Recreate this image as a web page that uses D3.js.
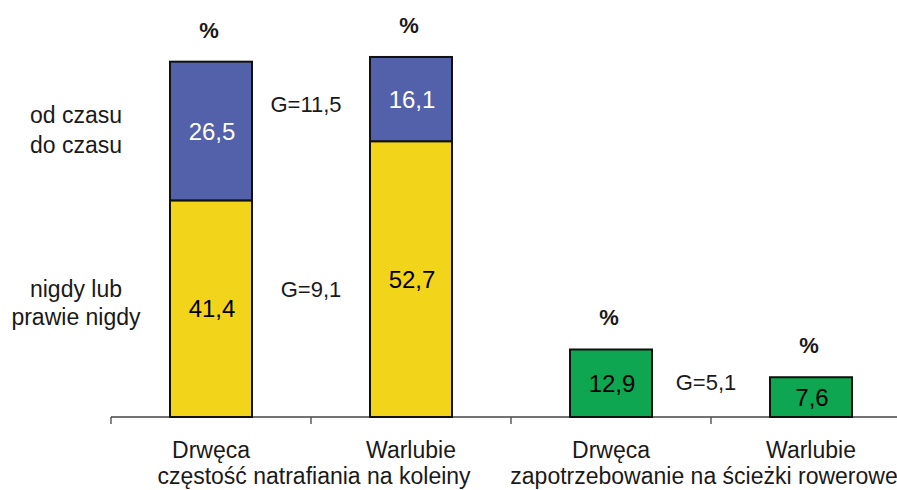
<!DOCTYPE html>
<html>
<head>
<meta charset="utf-8">
<script src="https://cdn.jsdelivr.net/npm/d3@7"></script>
<style>
  html, body { margin: 0; padding: 0; background: #fff; }
  svg { display: block; font-family: Arial, "Liberation Sans", Helvetica, sans-serif; }
</style>
</head>
<body>
<svg id="chart" width="897" height="490"></svg>
<script>
// ---- data ----
const categories = ["Drwęca", "Warlubie", "Drwęca ", "Warlubie "];
const categoryLabels = ["Drwęca", "Warlubie", "Drwęca", "Warlubie"];
const groupLabels = ["częstość natrafiania na koleiny", "zapotrzebowanie na ścieżki rowerowe"];
const seriesNames = ["od czasu\ndo czasu", "nigdy lub\nprawie nigdy"];
const nigdyValues = [41.4, 52.7, null, null];      // yellow
const odCzasuValues = [26.5, 16.1, null, null];    // blue
const sciezkiValues = [null, null, 12.9, 7.6];     // green
const gLabels = ["G=11,5", "G=9,1", "G=5,1"];
const unitLabel = "%";

// ---- layout ----
const svg = d3.select("#chart");
const W = 897, H = 490;
const baseY = 417;

const x = d3.scaleBand().domain(categories).range([111, 911]).padding(0);
const y = d3.scaleLinear().domain([0, 70]).range([baseY, baseY - 70 * 5.233]);
const barW = x.bandwidth() * 0.41;
const cx = c => x(c) + x.bandwidth() / 2;

const colors = { yellow: "#f2d41b", blue: "#5261a9", green: "#0ea650" };
const textColor = "#1a1a1a";

// axis
const axis = svg.append("g");
axis.append("line")
  .attr("x1", x(categories[0])).attr("x2", W)
  .attr("y1", baseY).attr("y2", baseY)
  .attr("stroke", "#444").attr("stroke-width", 1.3);
const tickXs = categories.map(c => x(c));
axis.selectAll("line.tick").data(tickXs).enter().append("line")
  .attr("class", "tick")
  .attr("x1", d => d).attr("x2", d => d)
  .attr("y1", baseY).attr("y2", baseY + 7)
  .attr("stroke", "#444").attr("stroke-width", 1.3);

// stacked bars
const rows = categories.map((c, i) => ({ c, i, yel: nigdyValues[i], blu: odCzasuValues[i], grn: sciezkiValues[i] }));

function drawBar(v0, v1, c, fill) {
  svg.append("rect")
    .attr("x", cx(c) - barW / 2)
    .attr("y", y(v1))
    .attr("width", barW)
    .attr("height", y(v0) - y(v1))
    .attr("fill", fill)
    .attr("stroke", "#111")
    .attr("stroke-width", 2);
}
function drawValue(v0, v1, c, val, color) {
  svg.append("text")
    .attr("x", cx(c) + 1)
    .attr("y", (y(v0) + y(v1)) / 2)
    .attr("dy", "0.36em")
    .attr("text-anchor", "middle")
    .attr("font-size", 24)
    .attr("fill", color)
    .text(String(val).replace(".", ","));
}
function drawUnit(top, c) {
  svg.append("text")
    .attr("x", cx(c) - 2)
    .attr("y", y(top) - 24)
    .attr("text-anchor", "middle")
    .attr("font-size", 22)
    .attr("font-weight", "bold")
    .attr("fill", textColor)
    .text(unitLabel);
}

rows.forEach(r => {
  if (r.yel != null) {
    drawBar(0, r.yel, r.c, colors.yellow);
    drawBar(r.yel, r.yel + r.blu, r.c, colors.blue);
    drawValue(0, r.yel, r.c, r.yel, "#000");
    drawValue(r.yel, r.yel + r.blu, r.c, r.blu, "#fff");
    drawUnit(r.yel + r.blu, r.c);
  }
  if (r.grn != null) {
    drawBar(0, r.grn, r.c, colors.green);
    drawValue(0, r.grn, r.c, r.grn, "#000");
    drawUnit(r.grn, r.c);
  }
});

// category labels
svg.selectAll("text.cat").data(categories).enter().append("text")
  .attr("class", "cat")
  .attr("x", d => cx(d))
  .attr("y", 458)
  .attr("text-anchor", "middle")
  .attr("font-size", 23)
  .attr("fill", textColor)
  .text((d, i) => categoryLabels[i]);

// group labels
const groupX = [x(categories[1]) + 3, x(categories[3]) - 7];
groupLabels.forEach((g, i) => {
  svg.append("text")
    .attr("x", groupX[i])
    .attr("y", 484)
    .attr("text-anchor", "middle")
    .attr("font-size", 23)
    .attr("fill", textColor)
    .text(g);
});

// series labels at left
const seriesY = [[123, 152.5], [296.5, 325]];
seriesNames.forEach((s, i) => {
  s.split("\n").forEach((line, j) => {
    svg.append("text")
      .attr("x", 76)
      .attr("y", seriesY[i][j])
      .attr("text-anchor", "middle")
      .attr("font-size", 23)
      .attr("fill", textColor)
      .text(line);
  });
});

// G annotations
const gPos = [
  [x(categories[1]) - 5, 111.5],
  [x(categories[1]), 296.5],
  [x(categories[3]) - 5, 390]
];
gLabels.forEach((g, i) => {
  svg.append("text")
    .attr("x", gPos[i][0])
    .attr("y", gPos[i][1])
    .attr("text-anchor", "middle")
    .attr("font-size", 22)
    .attr("fill", textColor)
    .text(g);
});
</script>
</body>
</html>
